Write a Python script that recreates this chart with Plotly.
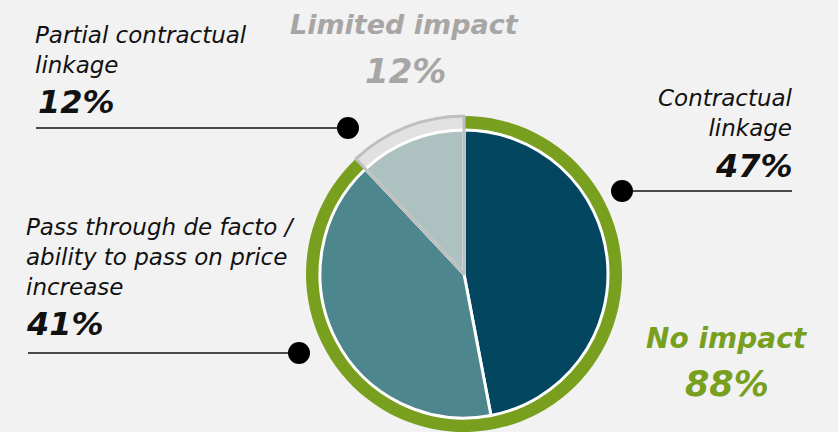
import plotly.graph_objects as go

# Share of price-increase exposure by contract type
categories = ["Contractual linkage",
              "Pass through de facto / ability to pass on price increase",
              "Partial contractual linkage"]
shares = [47, 41, 12]
slice_colors = ["#02465f", "#4d868d", "#adc1c0"]

# Outer ring: overall impact
impact_labels = ["No impact", "Limited impact"]
impact_shares = [88, 12]
impact_colors = ["#789f1e", "#e1e1e1"]

W, H = 838, 432
BG = "#f2f2f2"
FONT = "DejaVu Sans"


def px(x):
    return x / W


def py(y):
    return 1 - y / H


def dom_x(cx, r):
    return [px(cx - r), px(cx + r)]


def dom_y(cy, r):
    return [py(cy + r), py(cy - r)]


CX, CY = 464, 274
R_OUT, R_IN = 158, 144

fig = go.Figure()

# outer ring (full disc, inner pie drawn on top)
fig.add_trace(go.Pie(
    labels=impact_labels, values=impact_shares, sort=False,
    direction="clockwise", rotation=0,
    marker=dict(colors=impact_colors, line=dict(width=0)),
    textinfo="none", hoverinfo="label+percent", showlegend=False,
    domain=dict(x=dom_x(CX, R_OUT), y=dom_y(CY, R_OUT)),
))

# inner pie
fig.add_trace(go.Pie(
    labels=categories, values=shares, sort=False,
    direction="clockwise", rotation=0,
    marker=dict(colors=slice_colors, line=dict(color="white", width=3)),
    textinfo="none", hoverinfo="label+percent", showlegend=False,
    domain=dict(x=dom_x(CX, R_IN), y=dom_y(CY, R_IN)),
))

# outline of the limited-impact wedge
fig.add_trace(go.Pie(
    labels=impact_labels, values=impact_shares, sort=False,
    direction="clockwise", rotation=0,
    marker=dict(colors=["rgba(0,0,0,0)", "rgba(0,0,0,0)"],
                line=dict(color=["rgba(0,0,0,0)", "#bfbfbf"], width=[0, 3])),
    textinfo="none", hoverinfo="skip", showlegend=False,
    domain=dict(x=dom_x(CX, R_OUT), y=dom_y(CY, R_OUT)),
))

annotations = []
shapes = []


def note(text, x, y, size, color="#111111", bold=False, xanchor="left",
         align="left"):
    annotations.append(dict(
        text=text, x=px(x), y=py(y), xref="paper", yref="paper",
        xanchor=xanchor, yanchor="middle", align=align, showarrow=False,
        font=dict(family=FONT, size=size, color=color, style="italic",
                  weight="bold" if bold else "normal"),
    ))


def leader(x0, x1, y, dot_x):
    shapes.append(dict(type="line", xref="paper", yref="paper",
                       x0=px(x0), x1=px(x1), y0=py(y), y1=py(y),
                       line=dict(color="#111111", width=1.5)))
    r = 11
    shapes.append(dict(type="circle", xref="paper", yref="paper",
                       x0=px(dot_x - r), x1=px(dot_x + r),
                       y0=py(y + r), y1=py(y - r),
                       fillcolor="#000000", line=dict(width=0)))


def pct(v):
    return f"{v}%"


LBL = 23
NUM = 32

# Contractual linkage (right)
note("Contractual<br>linkage", 795, 113, LBL, xanchor="right", align="right")
note(pct(shares[0]), 795, 166, NUM, bold=True, xanchor="right", align="right")
leader(622, 792, 191, 622)

# Pass through (left)
note("Pass through de facto /<br>ability to pass on price<br>increase", 24, 257, LBL)
note(pct(shares[1]), 24, 324, NUM, bold=True)
leader(28, 298, 353, 299)

# Partial contractual linkage (top left)
note("Partial contractual<br>linkage", 33, 50, LBL)
note(pct(shares[2]), 36, 102, NUM, bold=True)
leader(36, 346, 128, 348)

# Ring labels
note(impact_labels[1], 404, 25, 27, color="#a8a5a5", bold=True, xanchor="center",
     align="center")
note(pct(impact_shares[1]), 405, 71, 34, color="#a8a5a5", bold=True,
     xanchor="center", align="center")
note(impact_labels[0], 727, 338, 28, color="#789f1e", bold=True, xanchor="center",
     align="center")
note(pct(impact_shares[0]), 727, 384, 35, color="#789f1e", bold=True,
     xanchor="center", align="center")

fig.update_layout(
    width=W, height=H, margin=dict(l=0, r=0, t=0, b=0),
    paper_bgcolor=BG, plot_bgcolor=BG,
    annotations=annotations, shapes=shapes,
)

fig.write_html("out.html")
